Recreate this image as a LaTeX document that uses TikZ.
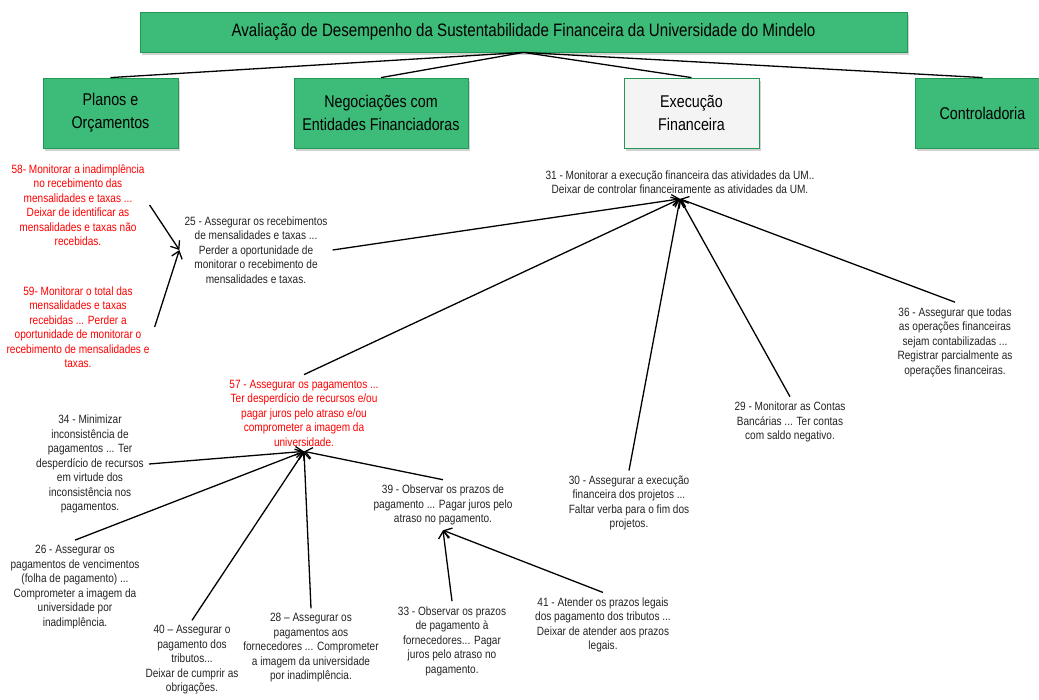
\documentclass[tikz,border=0pt]{standalone}
\usepackage{fontspec}
\setmainfont{Liberation Sans}
\newfontfamily\estreita[FakeStretch=0.84]{Liberation Sans}
\usetikzlibrary{arrows.meta,shadows}
\definecolor{verdecaixa}{RGB}{61,187,120}
\definecolor{verdeborda}{RGB}{36,150,86}
\definecolor{cinzacaixa}{RGB}{244,244,244}
\definecolor{textocinza}{RGB}{35,35,35}
\tikzstyle{caixa}=[draw=verdeborda, fill=verdecaixa, line width=0.8pt, align=center, minimum height=70pt, drop shadow={shadow xshift=1.5pt, shadow yshift=-2.5pt, opacity=0.35}, font=\estreita\fontsize{17}{23}\selectfont]
\tikzstyle{objetivo}=[align=center, inner sep=5pt, text=textocinza, font=\estreita\fontsize{12}{14.5}\selectfont]
\tikzstyle{critico}=[objetivo, text=red]
\tikzstyle{ligacao}=[draw=black, line width=1.3pt]
\tikzstyle{seta}=[ligacao, -{Straight Barb[length=7pt,width=11pt]}]

\begin{document}
\begin{tikzpicture}[x=1pt, y=-1pt]
		   \useasboundingbox (0,0) rectangle (1039,699);
		   % caixas
		   \node[caixa, minimum width=767pt, minimum height=40pt, font=\estreita\fontsize{18}{20}\selectfont] (titulo) at (523.5,32) {Avaliação de Desempenho da Sustentabilidade Financeira da Universidade do Mindelo};
		   \node[caixa, minimum width=135pt] (planos) at (110.5,113) {Planos e\\Orçamentos};
		   \node[caixa, minimum width=174pt] (negoc) at (381,113) {Negociações com\\Entidades Financiadoras};
		   \node[caixa, minimum width=135pt, fill=cinzacaixa] (exec) at (691.5,113) {Execução\\Financeira};
		   \node[caixa, minimum width=135pt] (control) at (982.5,113) {Controladoria};
		   \foreach \c in {planos, negoc, exec, control}
		   	\draw[ligacao] (titulo.south) -- (\c.north);
		   % objetivos
		   \node[critico] (n58) at (78,205) {58- Monitorar a inadimplência\\no recebimento das\\mensalidades e taxas  ...\\Deixar de identificar as\\mensalidades e taxas não\\recebidas.};
		   \node[critico] (n59) at (78,327) {59-  Monitorar o total das\\mensalidades e taxas\\recebidas ... Perder a\\oportunidade de monitorar o\\recebimento de mensalidades e\\taxas.};
		   \node[objetivo] (n25) at (256,250) {25 - Assegurar os recebimentos\\de mensalidades e taxas ...\\Perder a oportunidade de\\monitorar o recebimento de\\mensalidades e taxas.};
		   \node[objetivo] (n31) at (680,182) {31 - Monitorar a execução financeira das atividades da UM..\\Deixar de controlar financeiramente as atividades da UM.};
		   \node[objetivo] (n36) at (955,342) {36 - Assegurar que todas\\as operações financeiras\\sejam contabilizadas ...\\Registrar parcialmente as\\operações financeiras.};
		   \node[objetivo] (n29) at (790,422) {29 - Monitorar as Contas\\Bancárias ... Ter contas\\com saldo negativo.};
		   \node[objetivo] (n30) at (629,503) {30 - Assegurar a execução\\financeira dos projetos ...\\Faltar verba para o fim dos\\projetos.};
		   \node[critico] (n57) at (304,413) {57 -  Assegurar os pagamentos ...\\Ter desperdício de recursos  e/ou\\pagar juros pelo atraso e/ou\\comprometer a imagem da\\universidade.};
		   \node[objetivo] (n34) at (90,464) {34 - Minimizar\\inconsistência de\\pagamentos ... Ter\\desperdício de recursos\\em virtude dos\\inconsistência nos\\pagamentos.};
		   \node[objetivo] (n26) at (75,587) {26 - Assegurar os\\pagamentos de vencimentos\\(folha de pagamento) ...\\Comprometer a imagem da\\universidade por\\inadimplência.};
		   \node[objetivo] (n40) at (192,660) {40 – Assegurar o\\pagamento dos\\tributos...\\Deixar de cumprir as\\obrigações.};
		   \node[objetivo] (n28) at (311,648) {28 – Assegurar os\\pagamentos aos\\fornecedores ... Comprometer\\a imagem da universidade\\por inadimplência.};
		   \node[objetivo] (n39) at (443,505) {39 - Observar os prazos de\\pagamento ... Pagar juros pelo\\atraso no pagamento.};
		   \node[objetivo] (n33) at (452,641) {33 - Observar os prazos\\de pagamento  à\\fornecedores... Pagar\\juros pelo atraso no\\pagamento.};
		   \node[objetivo] (n41) at (603,625) {41 - Atender os prazos legais\\dos pagamento dos tributos  ...\\Deixar de atender aos prazos\\legais.};
		   % setas
		   \draw[seta] (n58.east) -- (n25.west);
		   \draw[seta] (n59.east) -- (n25.west);
		   \draw[seta] (n25.east) -- (n31.south);
		   \foreach \o in {n57, n30, n29, n36}
		   	\draw[seta] (\o.north) -- (n31.south);
		   \draw[seta] (n34.east) -- (n57.south);
		   \foreach \o in {n26, n40, n28, n39}
		   	\draw[seta] (\o.north) -- (n57.south);
		   \foreach \o in {n33, n41}
		   	\draw[seta] (\o.north) -- (n39.south);
\end{tikzpicture}
\end{document}
